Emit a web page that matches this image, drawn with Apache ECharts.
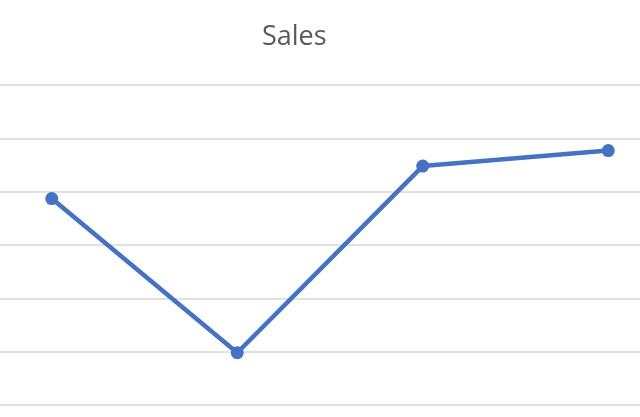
<!DOCTYPE html>
<html>
<head>
<meta charset="utf-8">
<script src="https://cdn.jsdelivr.net/npm/echarts@6/dist/echarts.min.js"></script>
<style>html,body{margin:0;padding:0;background:#fff;overflow:hidden;width:640px;height:417px;position:relative}#c{position:absolute;left:-41px;top:0;width:742px;height:417px}</style>
</head>
<body>
<div id="c"></div>
<script>
const categories = ["1", "2", "3", "4"];
const salesValues = [3.87, 0.98, 4.48, 4.77];
const chart = echarts.init(document.getElementById('c'));
chart.setOption({
  animation: false,
  title: {
    text: 'Sales',
    left: 303,
    top: 24,
    padding: 0,
    textStyle: { fontFamily: 'Open Sans', fontSize: 27, fontWeight: 'normal', color: '#595959' }
  },
  grid: { left: 0, right: 0, top: 85, bottom: 12, containLabel: false },
  xAxis: {
    type: 'category',
    data: categories,
    boundaryGap: true,
    axisLine: { show: false },
    axisTick: { show: false },
    axisLabel: { show: false }
  },
  yAxis: {
    type: 'value',
    min: 0, max: 6, interval: 1,
    axisLine: { show: false },
    axisTick: { show: false },
    axisLabel: { show: false },
    splitLine: { lineStyle: { color: '#d9d9d9', width: 1.5 } }
  },
  series: [{
    name: 'Sales',
    type: 'line',
    data: salesValues,
    symbol: 'circle',
    symbolSize: 13,
    lineStyle: { color: '#4472C4', width: 4.5 },
    itemStyle: { color: '#4472C4' }
  }]
});
</script>
</body>
</html>
